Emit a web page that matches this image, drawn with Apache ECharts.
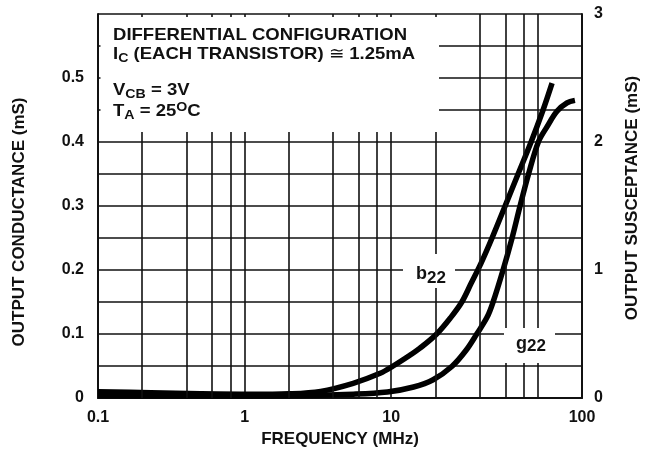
<!DOCTYPE html>
<html><head><meta charset="utf-8">
<script src="https://cdn.jsdelivr.net/npm/echarts@6/dist/echarts.min.js"></script>
<style>html,body{margin:0;padding:0;background:#fff}#c{width:649px;height:455px}</style>
</head><body><div id="c"></div>
<script>
// ---- data ----
const xLabelTicks = [0.1, 1, 10, 100];
const minorFreqs = [0.2, 0.4, 0.6, 0.8, 2, 4, 6, 8, 20, 40, 60, 80];
// b22 : output susceptance (mS), right axis
const b22Freq = [0.1, 0.23, 0.5, 1.1, 2, 3.3, 5.5, 8.4, 10.3, 13.4, 15.7, 20.4, 25.5, 30.3, 35.0, 41.0, 48.7, 59.8, 73.3, 89.9, 108.5, 125];
const b22Val  = [0.049, 0.041, 0.033, 0.029, 0.033, 0.052, 0.115, 0.193, 0.25, 0.334, 0.389, 0.5, 0.63, 0.75, 0.894, 1.054, 1.25, 1.5, 1.75, 2.0, 2.25, 2.46];
// g22 : output conductance (mS), left axis
const g22Freq = [0.1, 0.5, 2, 5.5, 9.4, 14.2, 19.3, 26.0, 32.4, 38.3, 45.0, 49.5, 57.9, 66.7, 75.6, 86.4, 100.8, 115.6, 135, 158, 179];
const g22Val  = [0.0035, 0.003, 0.0035, 0.006, 0.0094, 0.0172, 0.0285, 0.0496, 0.0746, 0.1, 0.126, 0.15, 0.2, 0.25, 0.3, 0.35, 0.4, 0.424, 0.448, 0.461, 0.465];
const leftLabels = ['0', '0.1', '0.2', '0.3', '0.4', '0.5', ''];
const rightLabels = ['0', '1', '2', '3'];

const FONT = "'Liberation Sans', Arial, Helvetica, sans-serif";
const chart = echarts.init(document.getElementById('c'), null, {renderer: 'canvas'});
const lineBlack = {color: '#111', width: 1.6};
const txt = (size) => ({fontFamily: FONT, fontWeight: 'bold', fontSize: size, color: '#111'});
const F = (s, w) => (w || 'bold') + ' ' + s + 'px ' + FONT;

chart.setOption({
  animation: false,
  backgroundColor: '#fff',
  grid: {left: 98, right: 67, top: 14, bottom: 57, show: false},
  xAxis: {
    type: 'log', logBase: 10, min: 0.1, max: 200,
    axisLine: {show: true, lineStyle: {color: '#111', width: 2}},
    axisTick: {show: false},
    splitLine: {show: true, lineStyle: lineBlack},
    axisLabel: Object.assign(txt(16), {
      margin: 12,
      showMinLabel: true, showMaxLabel: true,
      formatter: function (v) {
        if (v > 150) return String(xLabelTicks[3]);
        if (Math.abs(v - 100) < 1e-6) return '';
        for (const t of xLabelTicks) if (Math.abs(v - t) < 1e-9 * Math.max(1, t)) return String(t);
        return '';
      }
    }),
    name: 'FREQUENCY (MHz)', nameLocation: 'middle', nameGap: 33,
    nameTextStyle: txt(17)
  },
  yAxis: [{
    type: 'value', min: 0, max: 0.6, interval: 0.1, position: 'left',
    axisLine: {show: true, lineStyle: {color: '#111', width: 2}},
    axisTick: {show: false},
    splitLine: {show: true, lineStyle: lineBlack},
    minorTick: {show: false, splitNumber: 2},
    minorSplitLine: {show: true, lineStyle: lineBlack},
    axisLabel: Object.assign(txt(16), {margin: 14, formatter: (v) => leftLabels[Math.round(v * 10)]}),
    name: 'OUTPUT CONDUCTANCE (mS)', nameLocation: 'middle', nameRotate: 90, nameGap: 70,
    nameTextStyle: Object.assign(txt(17), {padding: [0, 32, 0, 0]})
  }, {
    type: 'value', min: 0, max: 3, interval: 1, position: 'right',
    axisLine: {show: true, lineStyle: {color: '#111', width: 2}},
    axisTick: {show: false},
    splitLine: {show: false},
    axisLabel: Object.assign(txt(16), {margin: 12, formatter: (v) => rightLabels[Math.round(v)]}),
    name: 'OUTPUT SUSCEPTANCE (mS)', nameLocation: 'middle', nameRotate: 90, nameGap: 42,
    nameTextStyle: Object.assign(txt(17), {padding: [0, 0, 0, 16]})
  }],
  series: [{
    name: 'g22', type: 'line', yAxisIndex: 0, smooth: 0.35, symbol: 'none',
    lineStyle: {color: '#000', width: 5.5},
    data: g22Freq.map((f, i) => [f, g22Val[i]]),
    markLine: {
      silent: true, symbol: ['none', 'none'], label: {show: false},
      lineStyle: {color: '#111', width: 1.6, type: 'solid'},
      data: minorFreqs.map(f => ({xAxis: f}))
    },
    z: 3
  }, {
    name: 'b22', type: 'line', yAxisIndex: 1, smooth: 0.35, symbol: 'none',
    lineStyle: {color: '#000', width: 5.5},
    data: b22Freq.map((f, i) => [f, b22Val[i]]),
    z: 4
  }],
  graphic: [
    {type: 'rect', z: 10, shape: {x: 100.5, y: 17, width: 338.5, height: 115}, style: {fill: '#fff'}},
    {type: 'text', z: 11, x: 113, y: 35, scaleX: 1.09, style: {text: 'DIFFERENTIAL CONFIGURATION', font: F(17), fill: '#111', verticalAlign: 'middle'}},
    {type: 'text', z: 11, x: 113, y: 54, scaleX: 1.09, style: {
      text: 'I{sub|C} (EACH TRANSISTOR) {sym|≅} 1.25mA', font: F(17), fill: '#111', verticalAlign: 'middle',
      rich: {sub: {font: F(13), fill: '#111', padding: [9, 0, 0, 0]}, sym: {font: F(17, 'normal'), fill: '#111'}}
    }},
    {type: 'text', z: 11, x: 113, y: 90, scaleX: 1.09, style: {
      text: 'V{sub|CB} = 3V', font: F(17), fill: '#111', verticalAlign: 'middle',
      rich: {sub: {font: F(13), fill: '#111', padding: [9, 0, 0, 0]}}
    }},
    {type: 'text', z: 11, x: 113, y: 111, scaleX: 1.09, style: {
      text: 'T{sub|A} = 25{sup|O}C', font: F(17), fill: '#111', verticalAlign: 'middle',
      rich: {sub: {font: F(13), fill: '#111', padding: [9, 0, 0, 0]}, sup: {font: F(13), fill: '#111', padding: [0, 0, 8, 0]}}
    }},
    {type: 'rect', z: 10, shape: {x: 403, y: 254, width: 52, height: 34}, style: {fill: '#fff'}},
    {type: 'text', z: 11, x: 416, y: 274, style: {
      text: 'b{sub|22}', font: F(18), fill: '#111', verticalAlign: 'middle',
      rich: {sub: {font: F(17), fill: '#111', padding: [8, 0, 0, 0]}}
    }},
    {type: 'rect', z: 10, shape: {x: 504, y: 328, width: 51, height: 35}, style: {fill: '#fff'}},
    {type: 'text', z: 11, x: 516, y: 344, style: {
      text: 'g{sub|22}', font: F(18), fill: '#111', verticalAlign: 'middle',
      rich: {sub: {font: F(17), fill: '#111', padding: [4, 0, 0, 0]}}
    }}
  ]
});
</script></body></html>
